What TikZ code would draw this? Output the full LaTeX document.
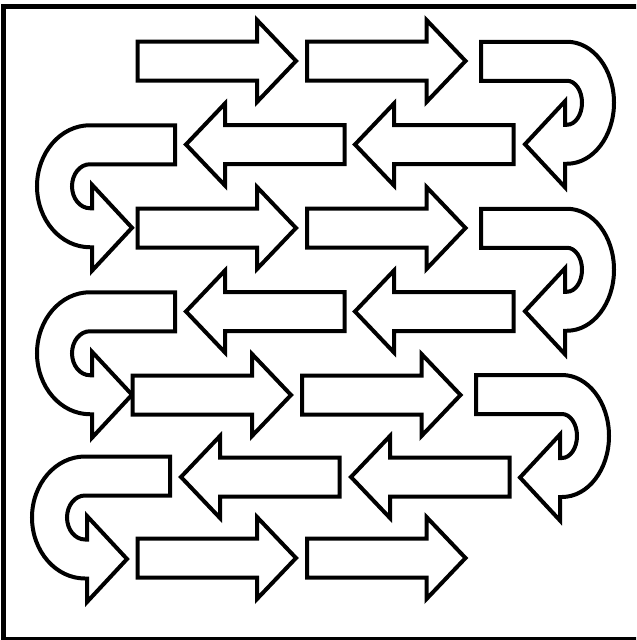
\documentclass[tikz,border=0pt]{standalone}
\begin{document}
\begin{tikzpicture}[x=0.03cm,y=-0.03cm,
  shapeline/.style={draw=black,line width=4*0.03cm,fill=white,line join=miter},
  rarr/.pic={\draw[shapeline] (0,-19.5) -- (119.5,-19.5) -- (119.5,-41) -- (158.5,0) -- (119.5,41) -- (119.5,19.5) -- (0,19.5) -- cycle;},
  larr/.pic={\draw[shapeline] (0,-19.5) -- (-119.5,-19.5) -- (-119.5,-41) -- (-158.5,0) -- (-119.5,41) -- (-119.5,19.5) -- (0,19.5) -- cycle;},
  uright/.pic={\draw[shapeline] (-86,-61) -- (0,-61) arc[start angle=-90,end angle=90,x radius=47,y radius=61]
      -- (-2,61) -- (-2,84.5) -- (-42,41.5) -- (-2,-1.5) -- (-2,22) -- (0,22)
      arc[start angle=90,end angle=-90,x radius=15,y radius=22] -- (-86,-22) -- cycle;},
  uleft/.pic={\draw[shapeline] (85,-61) -- (0,-61) arc[start angle=270,end angle=90,x radius=53,y radius=61]
      -- (2,61) -- (2,84.5) -- (42,41.5) -- (2,-1.5) -- (2,22) -- (0,22)
      arc[start angle=90,end angle=270,x radius=18,y radius=22] -- (85,-22) -- cycle;}
]
\useasboundingbox (0,0) rectangle (636,640);
\clip (0,0) rectangle (636,640);
\fill[white] (0,0) rectangle (636,640);
\draw[line width=5*0.03cm] (3.5,6.5) rectangle (645,639.5);
% row 1
\pic at (137.5,61) {rarr};
\pic at (307,61) {rarr};
\pic at (567,102.75) {uright};
% row 2
\pic at (344.5,144.5) {larr};
\pic at (513.5,144.5) {larr};
\pic at (90,186.25) {uleft};
% row 3
\pic at (137.5,228) {rarr};
\pic at (307,228) {rarr};
\pic at (567,269.75) {uright};
% row 4
\pic at (344.5,311.5) {larr};
\pic at (513.5,311.5) {larr};
\pic at (90,353.25) {uleft};
% row 5
\pic at (132.5,395) {rarr};
\pic at (302,395) {rarr};
\pic at (562,436) {uright};
% row 6
\pic at (339.5,477) {larr};
\pic at (509.5,477) {larr};
\pic at (85,517.5) {uleft};
% row 7
\pic at (137.5,558) {rarr};
\pic at (307,558) {rarr};
\end{tikzpicture}
\end{document}
